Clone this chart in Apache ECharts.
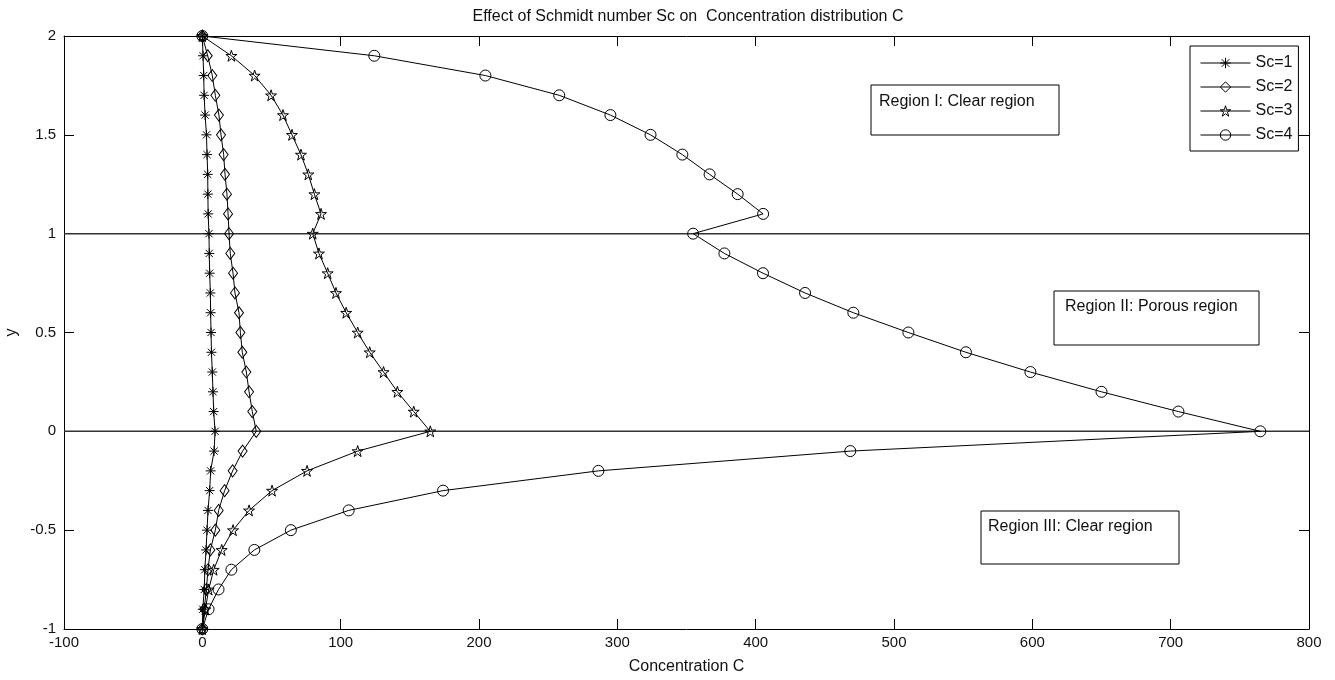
<!DOCTYPE html>
<html>
<head>
<meta charset="utf-8">
<script src="https://cdn.jsdelivr.net/npm/echarts@6/dist/echarts.min.js"></script>
<style>
html,body{margin:0;padding:0;background:#fff;}
#chart{width:1335px;height:680px;}
</style>
</head>
<body>
<div id="chart"></div>
<script>
// y positions (common to all series)
const yValues = [2.0,1.9,1.8,1.7,1.6,1.5,1.4,1.3,1.2,1.1,1.0,0.9,0.8,0.7,0.6,0.5,0.4,0.3,0.2,0.1,0.0,-0.1,-0.2,-0.3,-0.4,-0.5,-0.6,-0.7,-0.8,-0.9,-1.0];
// Concentration C for each Schmidt number
const sc1 = [0,0.5,1,1.3,2,3,3.4,3.9,4,4.2,4.8,5,5.3,5.8,6,6.3,6.6,7.2,7.7,8.2,9.2,8.5,6,5.3,4.1,3.4,2.7,1.8,1.4,0.3,0];
const sc2 = [0,3.9,7.2,9.4,12,13.5,15.4,16.4,17.8,18.6,19.3,20.2,22.2,23.6,26.5,27.5,28.9,31.8,33.8,36.1,39,29.1,21.9,16.1,11.8,9.4,5.8,4.1,2.9,1.4,0];
const sc3 = [0,21,37.8,49.7,58.3,64.8,71.3,76.6,81,85.8,79.8,84.3,90.6,96.6,104,112.3,121,131,141,152.8,164.8,112.3,75.7,50.4,33.8,22.2,14,8.2,4.6,2.2,0];
const sc4 = [0,124.3,204.6,258,295,324,347,366.7,387,405.4,354.8,377.4,405.3,435.7,470.6,510.4,552,598.6,650,705.6,764.8,468.4,286.3,174,105.8,64,37.6,21,11.7,4.5,0];
const seriesNames = ['Sc=1','Sc=2','Sc=3','Sc=4'];
// region boundaries (horizontal lines)
const boundaries = [1, 0];
const xTicks = {min:-100, max:800, interval:100};
const yTicks = {min:-1, max:2, interval:0.5};
const regionLabels = ['Region I: Clear region','Region II: Porous region','Region III: Clear region'];

const FONT = 'Liberation Sans, Arial, sans-serif';
const asterisk = 'path://M-5,0L5,0M0,-5L0,5M-3.6,-3.6L3.6,3.6M-3.6,3.6L3.6,-3.6';
const star = 'path://M0,-10L2.245,-3.09L9.51,-3.09L3.63,1.18L5.88,8.09L0,3.82L-5.88,8.09L-3.63,1.18L-9.51,-3.09L-2.245,-3.09Z';
const symbols = [asterisk,'diamond',star,'circle'];
const sizes = [[10,10],[9,12],[11,11],[11,11]];
const allData = [sc1,sc2,sc3,sc4];

const chart = echarts.init(document.getElementById('chart'), null, {renderer:'canvas'});

const series = [];
boundaries.forEach(b => {
  series.push({
    type:'line', data:[[xTicks.min,b],[xTicks.max,b]], symbol:'none', silent:true,
    lineStyle:{color:'#333',width:1.5}, z:1
  });
});
allData.forEach((arr,k) => {
  series.push({
    name: seriesNames[k], type:'line',
    data: arr.map((v,i)=>[v, yValues[i]]),
    symbol: symbols[k], symbolSize: sizes[k],
    lineStyle:{color:'#000',width:1},
    itemStyle:{color:'none',borderColor:'#000',borderWidth:1},
    z:3
  });
});

const axisCommon = {
  axisLine:{show:true,onZero:false,lineStyle:{color:'#000',width:1}},
  axisTick:{show:true,inside:true,length:10,lineStyle:{color:'#000'}},
  splitLine:{show:false}
};

const option = {
  animation:false,
  backgroundColor:'#fff',
  title:{
    text:'Effect of Schmidt number Sc on  Concentration distribution C',
    left:683, top:4, textAlign:'center',
    textStyle:{fontFamily:FONT,fontSize:16,fontWeight:'normal',color:'#111'}
  },
  grid:{left:64,right:26,top:36,bottom:51,containLabel:false,outerBoundsMode:'none'},
  legend:{
    data:seriesNames, orient:'vertical', left:1190, top:46,
    padding:[9,6,8,10], itemGap:8, itemWidth:50, itemHeight:13,
    borderColor:'#000', borderWidth:1, backgroundColor:'#fff',
    lineStyle:{width:1,color:'#000'},
    itemStyle:{color:'none',borderColor:'#000',borderWidth:1},
    textStyle:{fontFamily:FONT,fontSize:16,color:'#111'}
  },
  xAxis:[
    Object.assign({type:'value',position:'bottom',min:xTicks.min,max:xTicks.max,interval:xTicks.interval,
      name:'Concentration C',nameLocation:'middle',nameGap:30,
      nameTextStyle:{fontFamily:FONT,fontSize:16,color:'#111'},
      axisLabel:{fontFamily:FONT,fontSize:15,color:'#111',margin:6}},axisCommon),
    Object.assign({type:'value',position:'top',min:xTicks.min,max:xTicks.max,interval:xTicks.interval,
      axisLabel:{show:false}},axisCommon)
  ],
  yAxis:[
    Object.assign({type:'value',position:'left',min:yTicks.min,max:yTicks.max,interval:yTicks.interval,
      name:'y',nameLocation:'middle',nameGap:44,nameRotate:90,
      nameTextStyle:{fontFamily:FONT,fontSize:16,color:'#111'},
      axisLabel:{fontFamily:FONT,fontSize:15,color:'#111',margin:8}},axisCommon),
    Object.assign({type:'value',position:'right',min:yTicks.min,max:yTicks.max,interval:yTicks.interval,
      axisLabel:{show:false}},axisCommon)
  ],
  graphic:[
    {type:'rect',shape:{x:871,y:85,width:188,height:50},style:{fill:'#fff',stroke:'#000',lineWidth:1},z:10},
    {type:'text',x:879,y:102,style:{text:regionLabels[0],font:'16px '+FONT,fill:'#111',verticalAlign:'middle'},z:11},
    {type:'rect',shape:{x:1054,y:291,width:205,height:54},style:{fill:'#fff',stroke:'#000',lineWidth:1},z:10},
    {type:'text',x:1065,y:307,style:{text:regionLabels[1],font:'16px '+FONT,fill:'#111',verticalAlign:'middle'},z:11},
    {type:'rect',shape:{x:981,y:511,width:198,height:53},style:{fill:'#fff',stroke:'#000',lineWidth:1},z:10},
    {type:'text',x:988,y:527,style:{text:regionLabels[2],font:'16px '+FONT,fill:'#111',verticalAlign:'middle'},z:11}
  ],
  series:series
};
chart.setOption(option);
</script>
</body>
</html>
